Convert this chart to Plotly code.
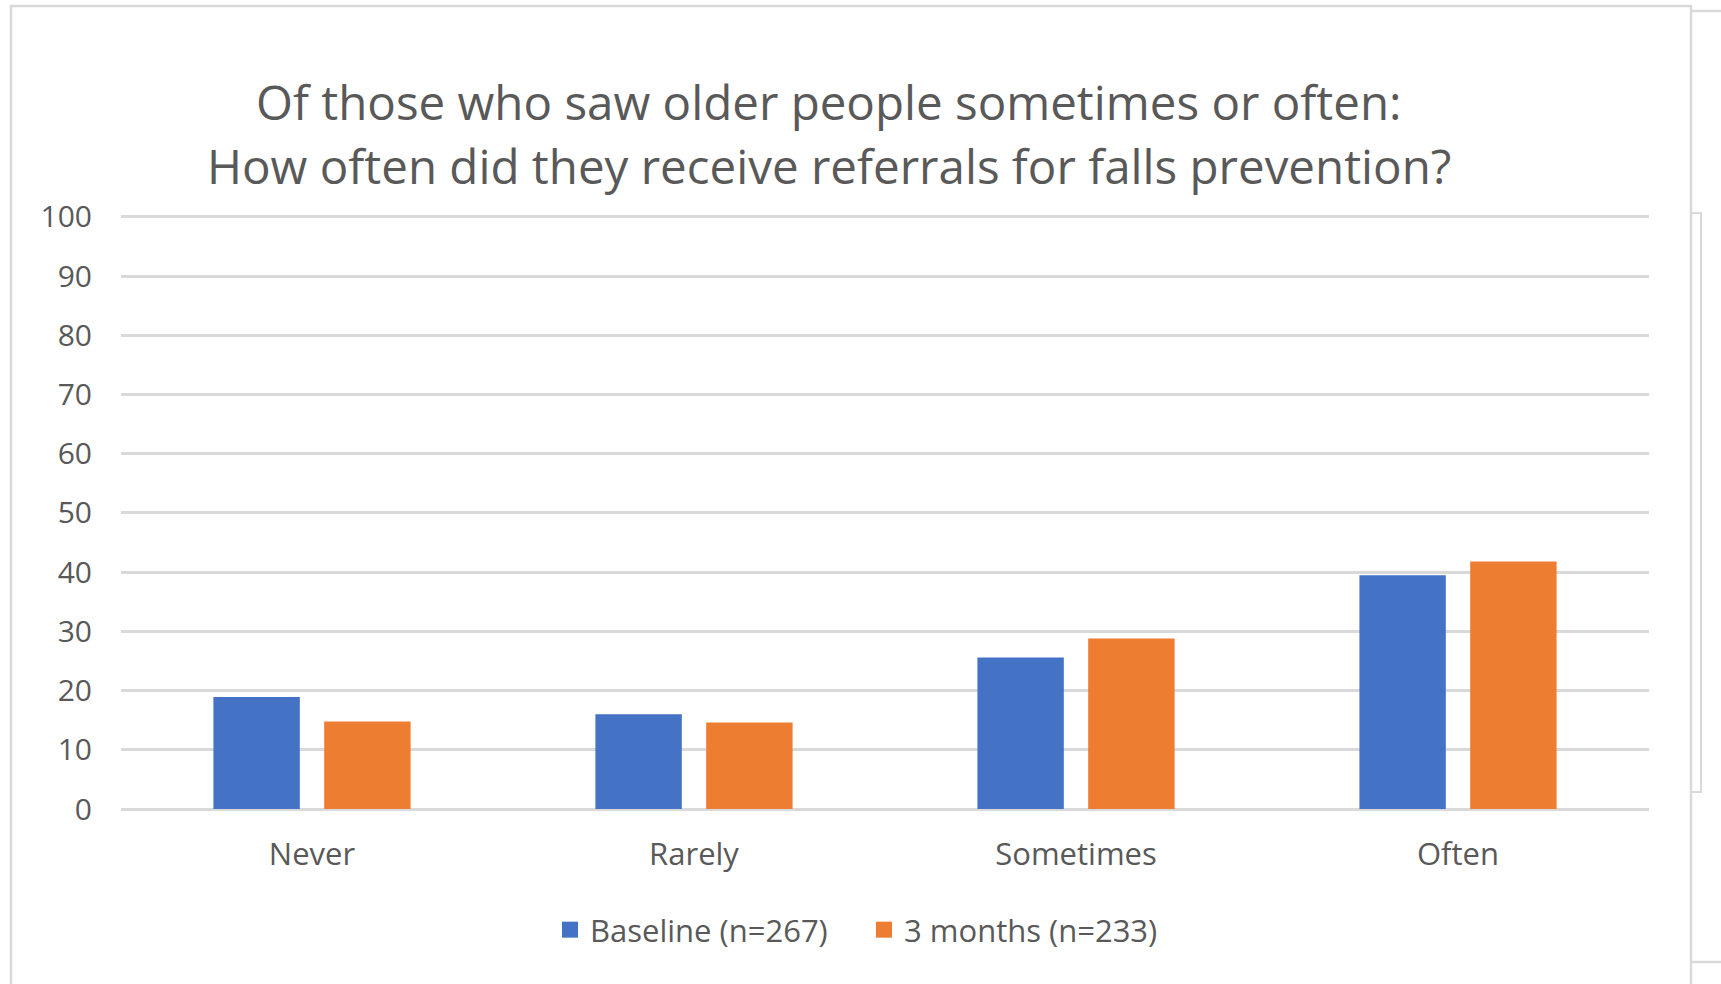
import plotly.graph_objects as go

# Survey responses (% of respondents)
categories = ["Never", "Rarely", "Sometimes", "Often"]
baseline = [18.9, 16.0, 25.6, 39.5]
three_months = [14.8, 14.6, 28.8, 41.8]
series_names = ["Baseline (n=267)", "3 months (n=233)"]
series_colors = ["#4472C4", "#ED7D31"]
y_ticks = [0, 10, 20, 30, 40, 50, 60, 70, 80, 90, 100]

W, H = 1721, 984
Y_MAX = 100.5                 # a little headroom so the 100 gridline is not clipped
B = 809                       # pixel row of y = 0
T = B - 592 * Y_MAX / 100     # pixel row of the top of the axis range
L, R = 121, 1649

def px_x(v):
    return (v - L) / (R - L)

def px_y(v):
    return (B - v) / (B - T)

FONT = "Open Sans"
TXT = "#595959"
GRID = "#d9d9d9"

fig = go.Figure()
for name, vals, col in zip(series_names, [baseline, three_months], series_colors):
    fig.add_trace(go.Bar(x=categories, y=vals, name=name, showlegend=False,
                         marker=dict(color=col, line=dict(width=0))))
# Legend entries with larger square swatches
for name, col in zip(series_names, series_colors):
    fig.add_trace(go.Scatter(x=[None], y=[None], mode="markers", name=name,
                             marker=dict(symbol="square", size=18, color=col)))

# Chart frame and the edge of the neighbouring object
border = dict(color="#d9d9d9", width=2.5)
shapes = [
    dict(type="path", xref="paper", yref="paper",
         path=f"M {px_x(11)} {px_y(990)} L {px_x(11)} {px_y(6)} L {px_x(1691)} {px_y(6)} L {px_x(1691)} {px_y(990)}",
         line=border),
    dict(type="line", xref="paper", yref="paper", x0=px_x(1691), x1=px_x(1725),
         y0=px_y(11), y1=px_y(11), line=border),
    dict(type="line", xref="paper", yref="paper", x0=px_x(1691), x1=px_x(1725),
         y0=px_y(962), y1=px_y(962), line=border),
    dict(type="path", xref="paper", yref="paper",
         path=f"M {px_x(1691)} {px_y(213)} L {px_x(1701)} {px_y(213)} L {px_x(1701)} {px_y(792)} L {px_x(1691)} {px_y(792)}",
         line=dict(color="#d9d9d9", width=2)),
]

title_lines = ["Of those who saw older people sometimes or often:",
               "How often did they receive referrals for falls prevention?"]
annotations = [
    dict(text=title_lines[0], xref="paper", yref="paper", x=px_x(829), y=px_y(102),
         xanchor="center", yanchor="middle", showarrow=False,
         font=dict(family=FONT, size=47.5, color=TXT)),
    dict(text=title_lines[1], xref="paper", yref="paper", x=px_x(829), y=px_y(166),
         xanchor="center", yanchor="middle", showarrow=False,
         font=dict(family=FONT, size=47.5, color=TXT)),
]

fig.update_layout(
    width=W, height=H,
    margin=dict(l=L, r=W - R, t=T, b=H - B, pad=0),
    paper_bgcolor="white", plot_bgcolor="white",
    barmode="group", bargap=0.42, bargroupgap=0.22,
    font=dict(family=FONT, color=TXT, size=31),
    showlegend=True,
    legend=dict(orientation="h", x=px_x(864), xanchor="center",
                y=px_y(930), yanchor="middle",
                font=dict(family=FONT, size=31, color=TXT),
                itemwidth=30, entrywidth=269, entrywidthmode="pixels",
                traceorder="normal"),
    shapes=shapes,
    annotations=annotations,
)
fig.update_xaxes(showgrid=False, showline=False, zeroline=False,
                 ticks="", ticklabelstandoff=24,
                 tickfont=dict(family=FONT, size=31, color=TXT))
fig.update_yaxes(range=[0, Y_MAX], tickvals=y_ticks, showgrid=True,
                 gridcolor=GRID, gridwidth=2.5, zeroline=True,
                 zerolinecolor=GRID, zerolinewidth=2.5, showline=False,
                 ticks="", ticklabelstandoff=28,
                 tickfont=dict(family=FONT, size=30, color=TXT))

fig.write_html("out.html")
